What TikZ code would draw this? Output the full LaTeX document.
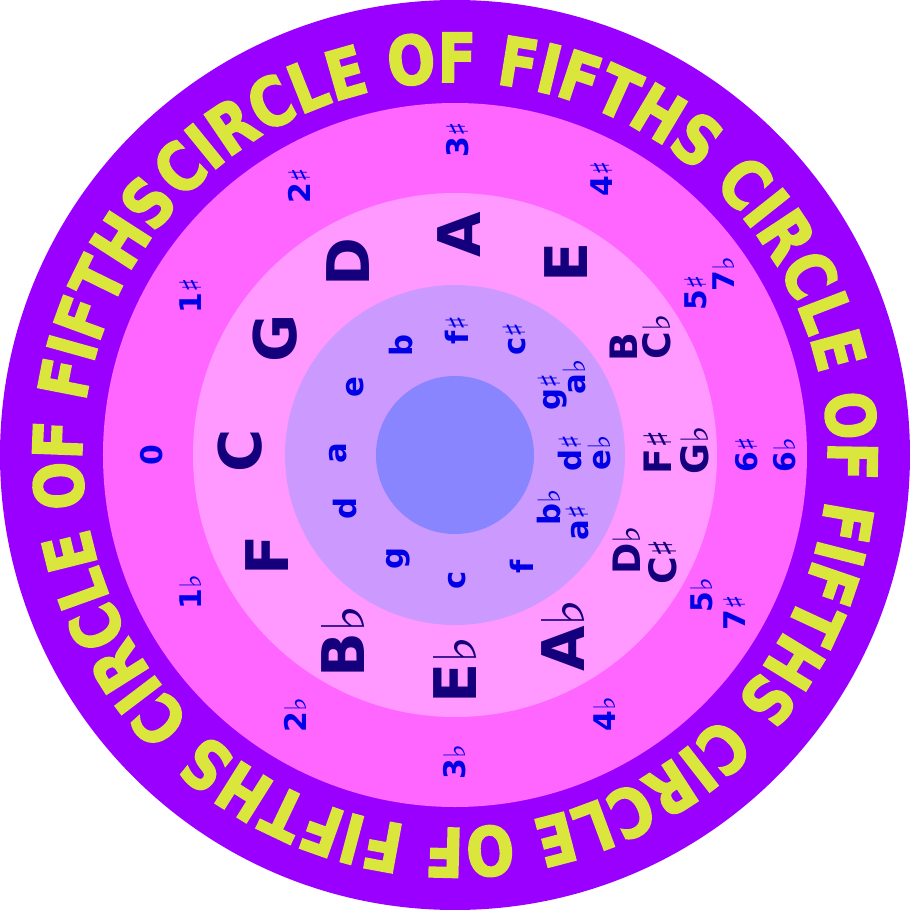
\documentclass[tikz,border=0pt]{standalone}
\usepackage{fontspec}
\setmainfont{DejaVu Sans}
\newfontfamily\ringfont[FakeStretch=0.83, FakeBold=2.5]{DejaVu Sans}
\newfontfamily\accfont{DejaVu Sans}
\usetikzlibrary{decorations.text}

\definecolor{ringpurple}{RGB}{153,0,255}
\definecolor{keypink}{RGB}{255,102,255}
\definecolor{majorpink}{RGB}{255,153,255}
\definecolor{minorlilac}{RGB}{204,153,255}
\definecolor{coreblue}{RGB}{136,133,255}
\definecolor{ringyellow}{RGB}{218,230,60}
\definecolor{majorcol}{RGB}{20,0,125}
\definecolor{minorcol}{RGB}{0,0,230}

\newcommand{\shrp}{{\accfont\mdseries ♯}}
\newcommand{\flt}{{\accfont\mdseries ♭}}
\newcommand{\ringtext}{\ringfont\bfseries\fontsize{38.5}{41}\selectfont}

\tikzset{
  major/.style={rotate=90, text=majorcol, font=\bfseries\fontsize{33.5}{36}\selectfont},
  majortwo/.style={major, font=\bfseries\fontsize{21.5}{24}\selectfont},
  minor/.style={rotate=90, text=minorcol, font=\bfseries\fontsize{17.5}{20}\selectfont},
  keysig/.style={rotate=90, text=minorcol, font=\bfseries\fontsize{17}{20}\selectfont}
}

\begin{document}
\begin{tikzpicture}[x=0.02cm, y=0.02cm]
  \useasboundingbox (-455,-455) rectangle (455,455);

  % Ringen
  \fill[ringpurple] (0,0) circle (455);
  \fill[keypink] (0,0) circle (352);
  \fill[majorpink] (0,0) circle (262);
  \fill[minorlilac] (0,0) circle (170);
  \fill[coreblue] (0,0) circle (79);

  % Tekst rond de rand
  \path[decorate, decoration={text along path, text align={fit to path},
      text color=ringyellow, text format delimiters={|}{|},
      text={|\ringtext|CIRCLE OF FIFTHS CIRCLE OF FIFTHS CIRCLE OF FIFTHS CIRCLE OF FIFTHS}}]
    (137:373) arc[start angle=137, delta angle=-359.5, radius=373];

  % Voortekens
  \foreach \ang/\rad/\name/\txt in {180/303/k0/0, 149/309/k1s/1\shrp, 120/311/k2s/2\shrp,
      89.5/315/k3s/3\shrp, 62/313/k4s/4\shrp, 34/290/k5s/5\shrp, 34/324/k7f/7\flt,
      0/292/k6s/6\shrp, 0/330/k6f/6\flt, -29.5/284/k5f/5\flt, -29.4/321/k7s/7\shrp,
      -60/299/k4f/4\flt, -90/307/k3f/3\flt, -121.6/305/k2f/2\flt, -152.7/298/k1f/1\flt}
    \node[keysig] (\name) at (\ang:\rad) {\txt};

  % Majeur
  \foreach \ang/\rad/\name/\txt in {179/215/C/C, 147/215/G/G, 119/221/D/D, 89/220/A/A,
      60/222/E/E, -59/210/Af/A\flt, -90/215/Ef/E\flt, -121/217/Bf/B\flt, -152/213/F/F}
    \node[major] (maj-\name) at (\ang:\rad) {\txt};
  \foreach \ang/\rad/\name/\txt in {32.7/200/B/B, 30.3/234/Cf/C\flt, 0.8/203/Fs/F\shrp,
      1.2/240/Gf/G\flt, -29/196/Df/D\flt, -27.2/234/Cs/C\shrp}
    \node[majortwo] (maj-\name) at (\ang:\rad) {\txt};

  % Mineur
  \foreach \ang/\rad/\name/\txt in {179/117/a/a, 146/121/e/e, 116/122/b/b, 89/125/fs/f\shrp,
      63/130/cs/c\shrp, 33/116/gs/g\shrp, 33/143/af/a\flt, 1/115/ds/d\shrp, 1/145/ef/e\flt,
      -29/108/bf/b\flt, -29/140/as/a\shrp, -59/130/f/f, -89/125/c/c, -119/118/g/g,
      -154/122/d/d}
    \node[minor] (min-\name) at (\ang:\rad) {\txt};

\end{tikzpicture}
\end{document}
